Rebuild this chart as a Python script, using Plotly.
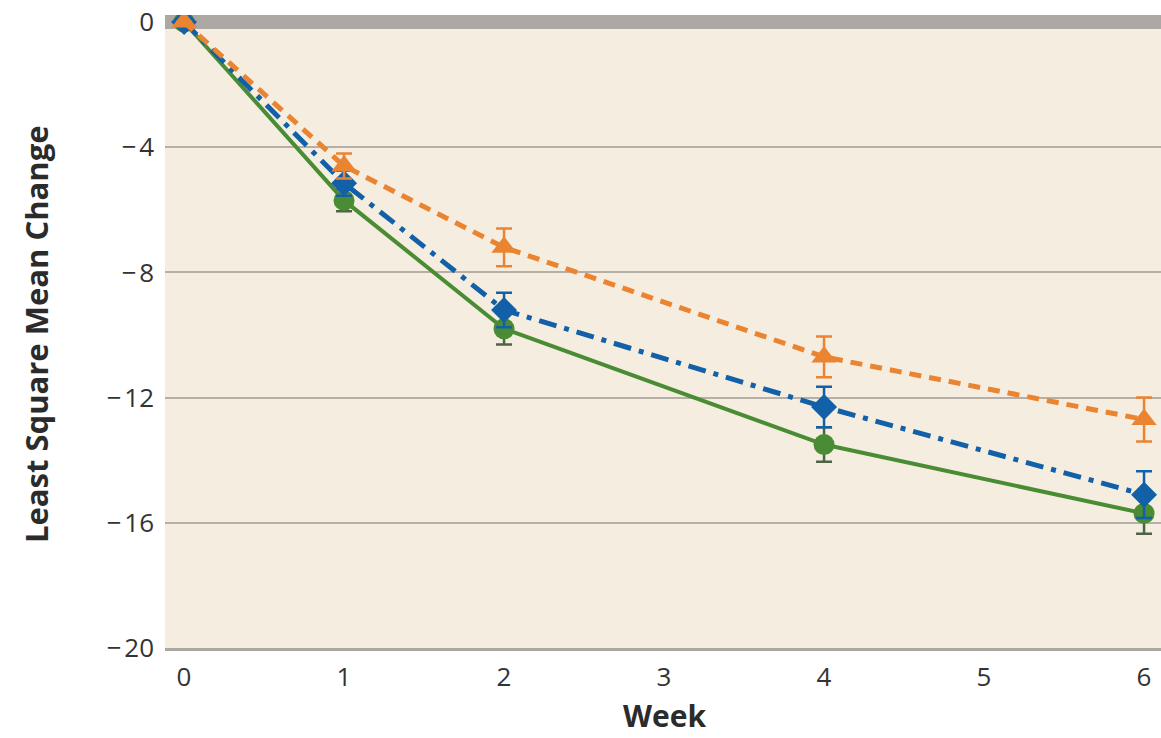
import plotly.graph_objects as go

weeks = [0, 1, 2, 4, 6]
green_vals = [0, -5.7, -9.8, -13.5, -15.7]
green_err = [0, 0.35, 0.5, 0.55, 0.65]
blue_vals = [0, -5.15, -9.2, -12.3, -15.1]
blue_err = [0, 0.4, 0.55, 0.65, 0.75]
orange_vals = [0, -4.6, -7.2, -10.7, -12.7]
orange_err = [0, 0.4, 0.6, 0.65, 0.7]

x_ticks = [0, 1, 2, 3, 4, 5, 6]
y_ticks = [0, -4, -8, -12, -16, -20]
y_tick_text = ["0", "\u2212\u200a4", "\u2212\u200a8", "\u2212\u200a12",
               "\u2212\u200a16", "\u2212\u200a20"]

GREEN = "#4A8C33"
BLUE = "#1160A8"
ORANGE = "#EA8430"

FONT = "Open Sans, sans-serif"

# plot area in pixels
L, R, T, B = 165, 0, 15, 90
W, H = 1161, 738
PW, PH = W - L - R, H - T - B


def px_x(px):
    return (px - L) / PW


def px_y(py):
    return (H - B - py) / PH


fig = go.Figure()

series = [
    (green_vals, green_err, GREEN, "#4F6245", "solid", 4, "circle", 21),
    (blue_vals, blue_err, BLUE, BLUE, "18px,8px,5px,8px", 5, "diamond", 20),
    (orange_vals, orange_err, ORANGE, ORANGE, "12px,8px", 5, "triangle-up", 22),
]
for vals, err, col, ecol, dash, lw, sym, size in series:
    fig.add_trace(go.Scatter(
        x=weeks, y=vals, mode="lines+markers",
        line=dict(color=col, width=lw, dash=dash),
        marker=dict(color=col, symbol=sym, size=size, line=dict(width=0)),
        error_y=dict(type="data", array=err, visible=True, color=ecol,
                     thickness=2.5, width=8),
        showlegend=False,
    ))

fig.update_layout(
    width=W, height=H,
    margin=dict(l=L, r=R, t=T, b=B),
    paper_bgcolor="white",
    plot_bgcolor="#F6EDE1",
    font=dict(family=FONT, size=26, color="#333333"),
    xaxis=dict(
        range=[-0.119, 6.106], tickvals=x_ticks, showgrid=False,
        zeroline=False, showline=True, linecolor="#ADA7A1", linewidth=3,
        ticks="", ticklabelstandoff=4,
        tickfont=dict(family=FONT, size=26, color="#333333"),
    ),
    yaxis=dict(
        range=[-20, 0.224], tickvals=y_ticks, ticktext=y_tick_text,
        showgrid=True, gridcolor="#B6AFA8", gridwidth=2,
        zeroline=True, zerolinecolor="#ADA8A3", zerolinewidth=14,
        ticks="", ticklabelstandoff=10,
        tickfont=dict(family=FONT, size=26, color="#333333"),
    ),
    annotations=[
        dict(text="<b>Week</b>", x=px_x(664), y=px_y(737),
             xref="paper", yref="paper", showarrow=False, borderpad=0,
             xanchor="center", yanchor="bottom",
             font=dict(family=FONT, size=30, color="#2B2B2B")),
        dict(text="<b>Least Square Mean Change</b>", x=px_x(36), y=px_y(335),
             xref="paper", yref="paper", showarrow=False, textangle=-90,
             xanchor="center", yanchor="middle",
             font=dict(family=FONT, size=31, color="#2B2B2B")),
    ],
)

fig.write_html("out.html", config={"displayModeBar": False},
               post_script="document.body.style.margin='0';")
